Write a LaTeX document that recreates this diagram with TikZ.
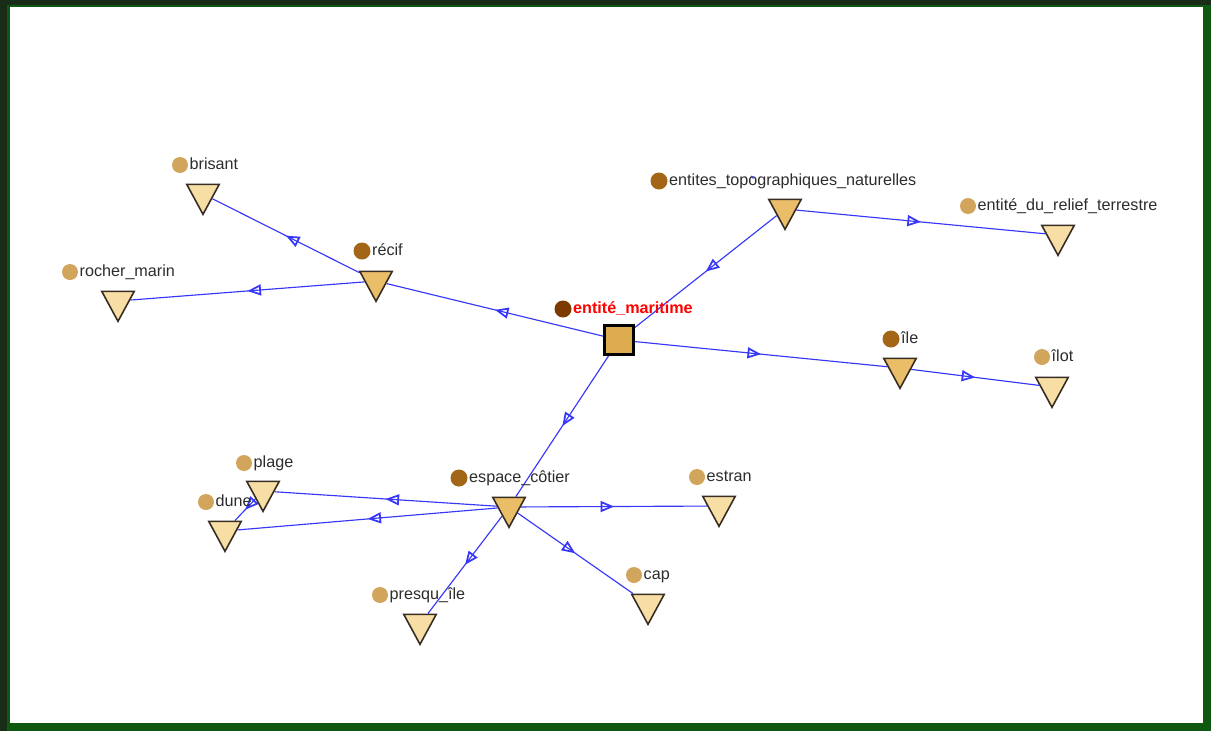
\documentclass[tikz,border=0pt]{standalone}
\usepackage{fontspec}
\setmainfont{Liberation Sans}
\usetikzlibrary{arrows.meta,positioning,shapes.geometric,decorations.markings,backgrounds}
\definecolor{framegreen}{RGB}{14,88,16}
\definecolor{framedark}{RGB}{24,44,24}
\definecolor{edgeblue}{RGB}{55,55,250}
\definecolor{nodeline}{RGB}{55,45,35}
\definecolor{hubfill}{RGB}{222,172,80}
\definecolor{corefill}{RGB}{234,190,105}
\definecolor{leaffill}{RGB}{246,222,165}
\definecolor{hubdot}{RGB}{125,58,0}
\definecolor{coredot}{RGB}{162,102,22}
\definecolor{leafdot}{RGB}{210,165,92}
\definecolor{labelgray}{RGB}{45,45,45}

\begin{document}
\begin{tikzpicture}[x=0.02cm, y=-0.02cm,
  core/.style={draw=nodeline, fill=corefill, line width=0.9pt, isosceles triangle, shape border rotate=-90, isosceles triangle stretches, minimum width=0.65cm, minimum height=0.6cm, inner sep=0pt},
  leaf/.style={core, fill=leaffill},
  hub/.style={draw=black, fill=hubfill, line width=1.3pt, minimum size=0.58cm, inner sep=0pt},
  dotcore/.style={circle, fill=coredot, inner sep=0pt, minimum size=0.34cm},
  dotleaf/.style={dotcore, fill=leafdot, minimum size=0.32cm},
  tag/.style={inner sep=0pt, text=labelgray, font=\fontsize{9.2}{11}\selectfont, text height=0.72em, text depth=0.2em},
  link/.style={draw=edgeblue, line width=0.65pt, postaction={decorate}, decoration={markings, mark=at position 0.5 with {\arrow{Triangle[open, length=0.27cm, width=0.22cm, line width=1pt]}}}}
]
\useasboundingbox (0,0) rectangle (1211,731);

\node[hub] (maritime) at (619,340) {};
\node[core] (recif) at (376,281) {};
\node[core] (topo) at (785,209) {};
\node[core] (ile) at (900,368) {};
\node[core] (espace) at (509,507) {};
\node[leaf] (brisant) at (203,194) {};
\node[leaf] (rocher) at (118,301) {};
\node[leaf] (relief) at (1058,235) {};
\node[leaf] (ilot) at (1052,387) {};
\node[leaf] (plage) at (263,491) {};
\node[leaf] (dune) at (225,531) {};
\node[leaf] (estran) at (719,506) {};
\node[leaf] (cap) at (648,604) {};
\node[leaf] (presqu) at (420,624) {};

\node[dotcore, fill=hubdot] (maritime-d) at (563,309) {};
\node[dotcore] (recif-d) at (362,251) {};
\node[dotcore] (topo-d) at (659,181) {};
\node[dotcore] (ile-d) at (891,339) {};
\node[dotcore] (espace-d) at (459,478) {};
\node[dotleaf] (brisant-d) at (180,165) {};
\node[dotleaf] (rocher-d) at (70,272) {};
\node[dotleaf] (relief-d) at (968,206) {};
\node[dotleaf] (ilot-d) at (1042,357) {};
\node[dotleaf] (plage-d) at (244,463) {};
\node[dotleaf] (dune-d) at (206,502) {};
\node[dotleaf] (estran-d) at (697,477) {};
\node[dotleaf] (cap-d) at (634,575) {};
\node[dotleaf] (presqu-d) at (380,595) {};

\node[tag, right=0.02cm of maritime-d, text=red, font=\fontsize{9.2}{11}\selectfont\bfseries] (maritime-t) {entité\_maritime};
\node[tag, right=0.02cm of recif-d] (recif-t) {récif};
\node[tag, right=0.02cm of topo-d] (topo-t) {entites\_topographiques\_naturelles};
\node[tag, right=0.02cm of ile-d] (ile-t) {île};
\node[tag, right=0.02cm of espace-d] (espace-t) {espace\_côtier};
\node[tag, right=0.02cm of brisant-d] (brisant-t) {brisant};
\node[tag, right=0.02cm of rocher-d] (rocher-t) {rocher\_marin};
\node[tag, right=0.02cm of relief-d] (relief-t) {entité\_du\_relief\_terrestre};
\node[tag, right=0.02cm of ilot-d] (ilot-t) {îlot};
\node[tag, right=0.02cm of plage-d] (plage-t) {plage};
\node[tag, right=0.02cm of dune-d] (dune-t) {dune};
\node[tag, right=0.02cm of estran-d] (estran-t) {estran};
\node[tag, right=0.02cm of cap-d] (cap-t) {cap};
\node[tag, right=0.02cm of presqu-d] (presqu-t) {presqu\_île};

\coordinate (topo-stub) at (751,176);

\begin{pgfonlayer}{background}
\fill[framegreen] (0,0) rectangle (1211,731);
\fill[framedark] (0,0) rectangle (7,731);
\fill[framedark] (0,0) rectangle (1211,5);
\fill[white] (10,7) rectangle (1203,723);
\draw[link] (topo) -- (maritime);
\draw[link] (maritime) -- (recif);
\draw[link] (maritime) -- (ile);
\draw[link] (maritime) -- (espace);
\draw[link] (topo) -- (relief);
\draw[link] (recif) -- (brisant);
\draw[link] (recif) -- (rocher);
\draw[link] (ile) -- (ilot);
\draw[link] (espace) -- (plage);
\draw[link] (espace) -- (dune);
\draw[link] (espace) -- (estran);
\draw[link] (espace) -- (cap);
\draw[link] (espace) -- (presqu);
\draw[link] (plage) -- (dune);
\end{pgfonlayer}
\draw[draw=edgeblue, line width=0.65pt, shorten <=0.58cm] (topo) -- (topo-stub);
\end{tikzpicture}
\end{document}
